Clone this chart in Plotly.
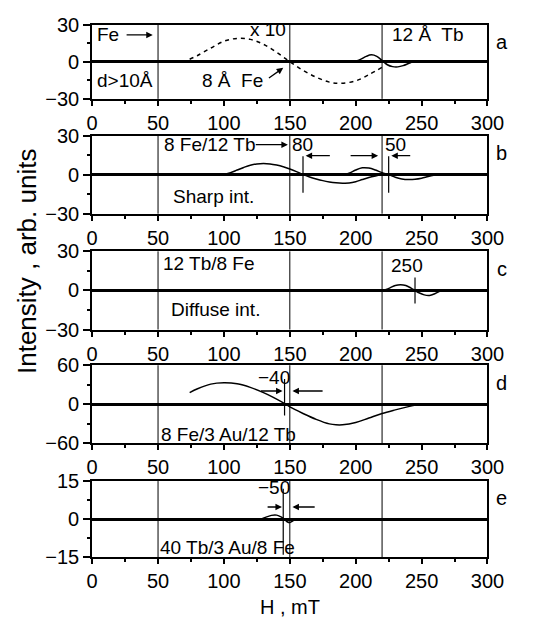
import plotly.graph_objects as go
from plotly.subplots import make_subplots

# ---------------- data ----------------
panel_labels = ["a", "b", "c", "d", "e"]
y_ranges = [[-30, 30], [-30, 30], [-30, 30], [-60, 60], [-15, 15]]
y_ticks = [[-30, 0, 30], [-30, 0, 30], [-30, 0, 30], [-60, 0, 60], [-15, 0, 15]]
x_ticks = [0, 50, 100, 150, 200, 250, 300]
guide_lines = [50, 150, 220]

# panel a
a_dash_x = [74, 80, 90, 100, 110, 120, 130, 140, 150, 160, 170, 180, 188, 200, 210, 220]
a_dash_y = [2, 5, 11, 16.5, 18.8, 18, 14, 7.5, 0, -7, -12.5, -16.5, -17.5, -15.5, -10.5, -4.5]
a_sol_x = [200, 204, 208, 212, 216, 220, 224, 228, 232, 236, 240, 242]
a_sol_y = [0.3, 2, 4.3, 5.5, 4.3, 1, -2.5, -4, -4.2, -3.2, -1.5, -0.7]

# panel b
b1_x = [100, 105, 110, 115, 120, 125, 130, 135, 140, 145, 150, 155, 160, 165, 170, 175,
        180, 185, 190, 195, 200, 205, 210, 215, 220]
b1_y = [0, 1.5, 3.5, 5.5, 7.2, 8.2, 8.5, 8.2, 7.3, 6, 4.3, 2.3, 0, -1.8, -3.3, -4.6,
        -5.6, -6.3, -6.6, -6.5, -5.5, -3.8, -2.2, -1, 0]
b2_x = [192, 196, 200, 205, 210, 215, 220, 225, 230, 235, 240, 245, 250, 255, 260, 262]
b2_y = [0, 1.5, 3.5, 5.2, 5, 3.5, 1.5, 0, -2, -3.3, -3.8, -3.6, -2.8, -1.5, -0.4, 0]

# panel c
c_x = [222, 226, 230, 234, 238, 242, 245, 248, 252, 256, 260, 264]
c_y = [0.3, 2, 3.8, 4.4, 3.8, 1.8, 0, -1.8, -3.4, -3.8, -2.5, -0.5]

# panel d
d_x = [74, 80, 90, 100, 110, 120, 130, 140, 147, 150, 160, 170, 180, 185, 190, 200,
       210, 220, 230, 240, 248]
d_y = [18, 24, 31, 33, 31.5, 26, 18, 8, 0, -4, -14, -23, -30, -31.5, -31.5, -28,
       -21, -14, -8.5, -3.5, 0]

# panel e
e_x = [128, 132, 136, 140, 143, 146, 148, 150, 152, 154]
e_y = [0, 0.8, 1.5, 1.6, 1.0, 0, -1.0, -1.3, -0.8, 0]

# short vertical marker lines: (panel, x, y_low, y_high)
markers = [(2, 160, -14, 14), (2, 225, -14, 14), (3, 245, -10, 10),
           (4, 146, -17, 39), (5, 145, -14, 12)]

# arrows: (panel, x_from, y_from, x_to, y_to)
arrows = [(1, 25, 21.6, 46, 21.6), (1, 133, -14, 145, -5),
          (2, 123, 23, 148.5, 23), (2, 181.5, 14.5, 162, 14.5),
          (2, 195, 14.5, 217, 14.5), (2, 242.5, 14.5, 227, 14.5),
          (4, 127, 20.5, 144.5, 20.5), (4, 176, 20.5, 152, 20.5),
          (5, 132, 4.8, 144, 4.8), (5, 170, 4.8, 152, 4.8)]

# texts: (panel, x, y, text, xanchor)
texts = [(1, 2.5, 21.6, "Fe", "left"), (1, 118.5, 26, "x 10", "left"),
         (1, 226, 21.6, "12 Å  Tb", "left"), (1, 2.5, -15.3, "d>10Å", "left"),
         (1, 81.5, -15, "8 Å  Fe", "left"),
         (2, 53, 23, "8 Fe/12 Tb", "left"), (2, 150.5, 23, "80", "left"),
         (2, 220.5, 23, "50", "left"), (2, 60, -17, "Sharp int.", "left"),
         (3, 52, 21, "12 Tb/8 Fe", "left"), (3, 58.5, -15, "Diffuse int.", "left"),
         (3, 225, 19, "250", "left"),
         (4, 138, 41, "−40", "center"), (4, 50.5, -47, "8 Fe/3 Au/12 Tb", "left"),
         (5, 138, 12.4, "−50", "center"), (5, 50, -11, "40 Tb/3 Au/8 Fe", "left")]

# ---------------- figure ----------------
W, H = 538, 633
FONT = "Liberation Sans, Arial, sans-serif"
fig = make_subplots(rows=5, cols=1)

panel_px = [(14, 91), (129, 210), (249, 330), (367, 448), (487, 566)]
x_dom = [90 / W, 503 / W]

line_style = dict(color="black", width=1.5)
fig.add_trace(go.Scatter(x=a_dash_x, y=a_dash_y, mode="lines", line_shape="spline",
                         line=dict(color="black", width=1.5, dash="4px,4px")), row=1, col=1)
fig.add_trace(go.Scatter(x=a_sol_x, y=a_sol_y, mode="lines", line_shape="spline", line=line_style), row=1, col=1)
fig.add_trace(go.Scatter(x=b1_x, y=b1_y, mode="lines", line_shape="spline", line=line_style), row=2, col=1)
fig.add_trace(go.Scatter(x=b2_x, y=b2_y, mode="lines", line_shape="spline", line=line_style), row=2, col=1)
fig.add_trace(go.Scatter(x=c_x, y=c_y, mode="lines", line_shape="spline", line=line_style), row=3, col=1)
fig.add_trace(go.Scatter(x=d_x, y=d_y, mode="lines", line_shape="spline", line=line_style), row=4, col=1)
fig.add_trace(go.Scatter(x=e_x, y=e_y, mode="lines", line_shape="spline", line=line_style), row=5, col=1)

for (p, xm, y0, y1) in markers:
    fig.add_trace(go.Scatter(x=[xm, xm], y=[y0, y1], mode="lines",
                             line=dict(color="black", width=1.2)), row=p, col=1)

for i in range(5):
    r = i + 1
    top, bot = panel_px[i]
    fig.update_xaxes(row=r, col=1, domain=x_dom, range=[0, 300], tickvals=x_ticks,
                     ticks="outside", ticklen=5, tickwidth=1.5, tickcolor="black",
                     showline=True, mirror=True, linewidth=2, linecolor="black",
                     showgrid=False, zeroline=False,
                     minor=dict(dtick=25, tick0=0, ticks="outside", ticklen=3,
                                tickwidth=2, tickcolor="black", showgrid=False),
                     tickfont=dict(family=FONT, size=20, color="black"))
    fig.update_yaxes(row=r, col=1, domain=[1 - bot / H, 1 - top / H], range=y_ranges[i],
                     tickvals=y_ticks[i], ticks="outside", ticklen=7, tickwidth=1.5,
                     tickcolor="black", showline=True, mirror=True, linewidth=2,
                     linecolor="black", showgrid=False, zeroline=True,
                     zerolinewidth=2.5, zerolinecolor="black",
                     minor=dict(dtick=y_ranges[i][1] / 2, tick0=0, ticks="outside",
                                ticklen=3, tickwidth=1.5, tickcolor="black", showgrid=False),
                     tickfont=dict(family=FONT, size=20, color="black"))
    xref = "x" if r == 1 else f"x{r}"
    yref = "y" if r == 1 else f"y{r}"
    for g in guide_lines:
        fig.add_shape(type="line", xref=xref, yref=f"{yref} domain", x0=g, x1=g, y0=0, y1=1,
                      line=dict(color="black", width=1))
    fig.add_annotation(xref="paper", yref="paper", x=518 / W, y=1 - (top + 18) / H,
                       text=panel_labels[i], showarrow=False, xanchor="center", yanchor="middle",
                       font=dict(family=FONT, size=20, color="black"))

for (p, x0, y0, x1, y1) in arrows:
    xref = "x" if p == 1 else f"x{p}"
    yref = "y" if p == 1 else f"y{p}"
    fig.add_annotation(xref=xref, yref=yref, axref=xref, ayref=yref, x=x1, y=y1, ax=x0, ay=y0,
                       text="", showarrow=True, arrowhead=2, arrowsize=1, arrowwidth=1.3,
                       arrowcolor="black", standoff=0, startstandoff=0)

for (p, x, y, t, anc) in texts:
    xref = "x" if p == 1 else f"x{p}"
    yref = "y" if p == 1 else f"y{p}"
    fig.add_annotation(xref=xref, yref=yref, x=x, y=y, text=t, showarrow=False,
                       xanchor=anc, yanchor="middle",
                       font=dict(family=FONT, size=19, color="black"))

fig.add_annotation(xref="paper", yref="paper", x=296.5 / W, y=1 - 617 / H,
                   text="H , mT", showarrow=False, xanchor="center", yanchor="middle",
                   font=dict(family=FONT, size=20, color="black"))
fig.add_annotation(xref="paper", yref="paper", x=22 / W, y=1 - 260 / H,
                   text="Intensity , arb. units", textangle=-90, showarrow=False,
                   xanchor="center", yanchor="middle",
                   font=dict(family=FONT, size=26, color="black"))

fig.update_layout(width=W, height=H, margin=dict(l=0, r=0, t=0, b=0),
                  paper_bgcolor="white", plot_bgcolor="white", showlegend=False)

fig.write_html("out.html")
